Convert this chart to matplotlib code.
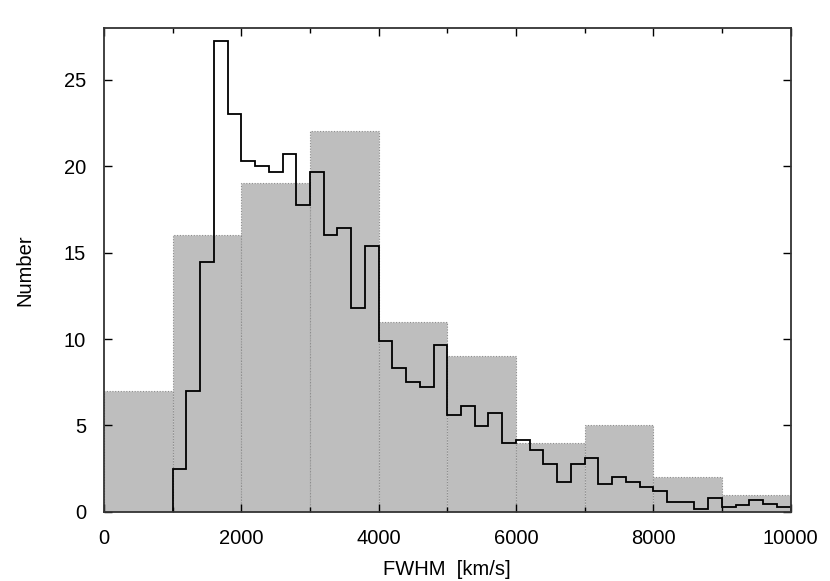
import numpy as np
import matplotlib
matplotlib.use("Agg")
import matplotlib.pyplot as plt
from matplotlib.ticker import MultipleLocator

plt.rcParams['font.family'] = ['Liberation Sans', 'DejaVu Sans']

# coarse histogram, 1000 km/s bins
coarse_edges = [0, 1000, 2000, 3000, 4000, 5000, 6000, 7000, 8000, 9000, 10000]
coarse_counts = [7, 16, 19, 22, 11, 9, 4, 5, 2, 1]

# fine histogram, 200 km/s bins from 1000 to 10000
fine_start = 1000
fine_width = 200
fine_counts = [2.5, 7.0, 14.45, 27.25, 23.0, 20.3, 20.0, 19.65, 20.7, 17.75,
               19.65, 16.0, 16.4, 11.8, 15.4, 9.9, 8.3, 7.5, 7.25, 9.65,
               5.6, 6.15, 4.95, 5.75, 4.0, 4.15, 3.6, 2.8, 1.75, 2.8,
               3.1, 1.6, 2.05, 1.75, 1.45, 1.2, 0.55, 0.55, 0.15, 0.8,
               0.3, 0.4, 0.7, 0.45, 0.3]

fig = plt.figure(figsize=(8.3, 5.81), dpi=100)
ax = fig.add_axes([0.1253, 0.1188, 0.8272, 0.8336])

# gray bars
ax.bar(coarse_edges[:-1], coarse_counts, width=np.diff(coarse_edges), align='edge',
       color='#bebebe', edgecolor='#8c8c8c', linewidth=0.8, linestyle=(0, (1, 1.5)), zorder=1)

# black step line
fine_edges = fine_start + fine_width * np.arange(len(fine_counts) + 1)
ax.stairs(fine_counts, fine_edges, color='black', linewidth=1.3, baseline=0, zorder=2)

ax.set_xlim(0, 10000)
ax.set_ylim(0, 28)
ax.xaxis.set_major_locator(MultipleLocator(2000))
ax.xaxis.set_minor_locator(MultipleLocator(1000))
ax.yaxis.set_major_locator(MultipleLocator(5))
ax.tick_params(which='both', direction='in', top=True, right=True, labelsize=14.5)
ax.tick_params(axis='x', pad=12)
ax.tick_params(axis='y', pad=13)
ax.tick_params(which='major', length=6, width=1)
ax.tick_params(which='minor', length=3.5, width=1)
ax.tick_params(axis='y', which='minor', left=False, right=False)
for s in ax.spines.values():
    s.set_linewidth(1.3)
    s.set_color('#333333')
    s.set_zorder(3)

ax.set_xlabel('FWHM  [km/s]', fontsize=14.5, labelpad=9)
ax.set_ylabel('Number', fontsize=14.5, labelpad=21)

fig.savefig('out.png', dpi=100)
